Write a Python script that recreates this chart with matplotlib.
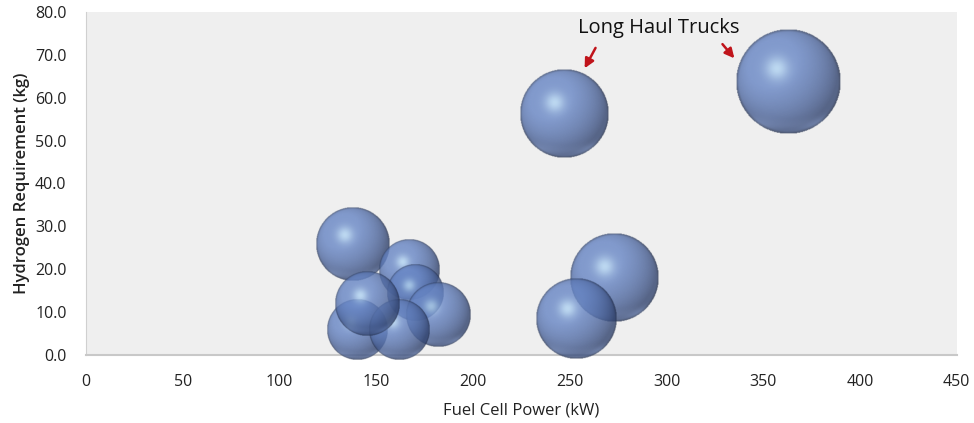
import numpy as np
import matplotlib
matplotlib.use("Agg")
import matplotlib.pyplot as plt

# fuel cell power (kW), hydrogen requirement (kg), relative bubble size
power = [138, 167, 182, 170, 145, 140, 162, 247, 363, 273, 253]
hydrogen = [26.0, 19.8, 9.3, 14.5, 12.0, 5.8, 5.8, 56.3, 63.6, 17.9, 8.4]
bubble = [50.6, 33.3, 37.9, 29.0, 37.9, 33.3, 33.3, 71.6, 100.0, 71.6, 59.2]

x_ticks = [0, 50, 100, 150, 200, 250, 300, 350, 400, 450]
y_ticks = [0, 10, 20, 30, 40, 50, 60, 70, 80]

plt.rcParams['font.family'] = ['Open Sans', 'DejaVu Sans']

fig = plt.figure(figsize=(9.74, 4.23), dpi=100)
ax = fig.add_axes([0.0883, 0.1608, 0.894, 0.8108])
ax.set_facecolor('#efefef')
ax.set_xlim(0, 450)
ax.set_ylim(0, 80)
ax.set_xticks(x_ticks)
ax.set_yticks(y_ticks)
ax.set_yticklabels(['%.1f' % v for v in y_ticks])
ax.tick_params(length=0, labelsize=11.5, colors='#222222')
ax.tick_params(axis='x', pad=14)
ax.tick_params(axis='y', pad=14)
for s in ['top', 'right']:
    ax.spines[s].set_visible(False)
ax.spines['left'].set_color('#d0d0d0')
ax.spines['bottom'].set_color('#c8c8c8')
ax.spines['bottom'].set_linewidth(1.5)
ax.set_xlabel('Fuel Cell Power (kW)', fontsize=12, color='#222222', labelpad=9)
ax.set_ylabel('Hydrogen Requirement (kg)', fontsize=12, color='#222222',
              fontweight='semibold', labelpad=4)


def sphere_img(n=160):
    # shaded sphere as rgba, light from upper left
    g = np.linspace(-1, 1, n)
    X, Y = np.meshgrid(g, -g)
    R2 = X**2 + Y**2
    R = np.sqrt(R2)
    inside = R <= 1
    Z = np.sqrt(np.clip(1 - R2, 0, 1))
    L = np.array([-0.35, 0.4, 0.85])
    L = L / np.linalg.norm(L)
    diff = np.clip(X * L[0] + Y * L[1] + Z * L[2], 0, 1)
    spec = np.exp(-((X + 0.22)**2 + (Y - 0.25)**2) / 0.05)
    rim = np.exp(-((Y + 0.8)**2) / 0.02) * np.clip(R2 - 0.5, 0, 1) * 1.6
    dark = np.array([0.19, 0.26, 0.43])
    base = np.array([0.40, 0.52, 0.77])
    hi = np.array([0.76, 0.90, 0.99])
    t = diff[..., None]
    col = dark + (base - dark) * np.clip(t * 1.15, 0, 1)
    col = col + (hi - col) * np.clip(spec, 0, 1)[..., None] * 0.8
    col = col + (np.array([0.52, 0.64, 0.88]) - col) * np.clip(rim, 0, 1)[..., None] * 0.5
    edge = np.clip((R - 0.95) / 0.05, 0, 1)
    col = col * (1 - 0.35 * edge[..., None])
    alpha = np.where(inside, 0.8, 0.0)
    return np.dstack([np.clip(col, 0, 1), alpha])


img = sphere_img()
fig.canvas.draw()
px_x = ax.transData.transform((1, 0))[0] - ax.transData.transform((0, 0))[0]
px_y = ax.transData.transform((0, 1))[1] - ax.transData.transform((0, 0))[1]
rmax = 52  # pixel radius of largest bubble
for i in [8, 7, 9, 10, 0, 1, 3, 2, 5, 6, 4]:
    r = rmax * np.sqrt(bubble[i] / 100.0)
    rx = r / px_x
    ry = r / px_y
    ax.imshow(img, extent=(power[i] - rx, power[i] + rx, hydrogen[i] - ry, hydrogen[i] + ry),
              interpolation='bilinear', zorder=3, clip_on=False, aspect='auto')
ax.set_xlim(0, 450)
ax.set_ylim(0, 80)

ax.text(296, 76.2, 'Long Haul Trucks', fontsize=14.5, ha='center', va='center', color='#111111')
arr = dict(arrowstyle='-|>', color='#c0141b', lw=1.8, mutation_scale=14)
ax.annotate('', xy=(257, 66.3), xytext=(264, 72.2), arrowprops=arr)
ax.annotate('', xy=(336, 68.7), xytext=(328, 73.0), arrowprops=arr)

fig.savefig('out.png', dpi=100)
